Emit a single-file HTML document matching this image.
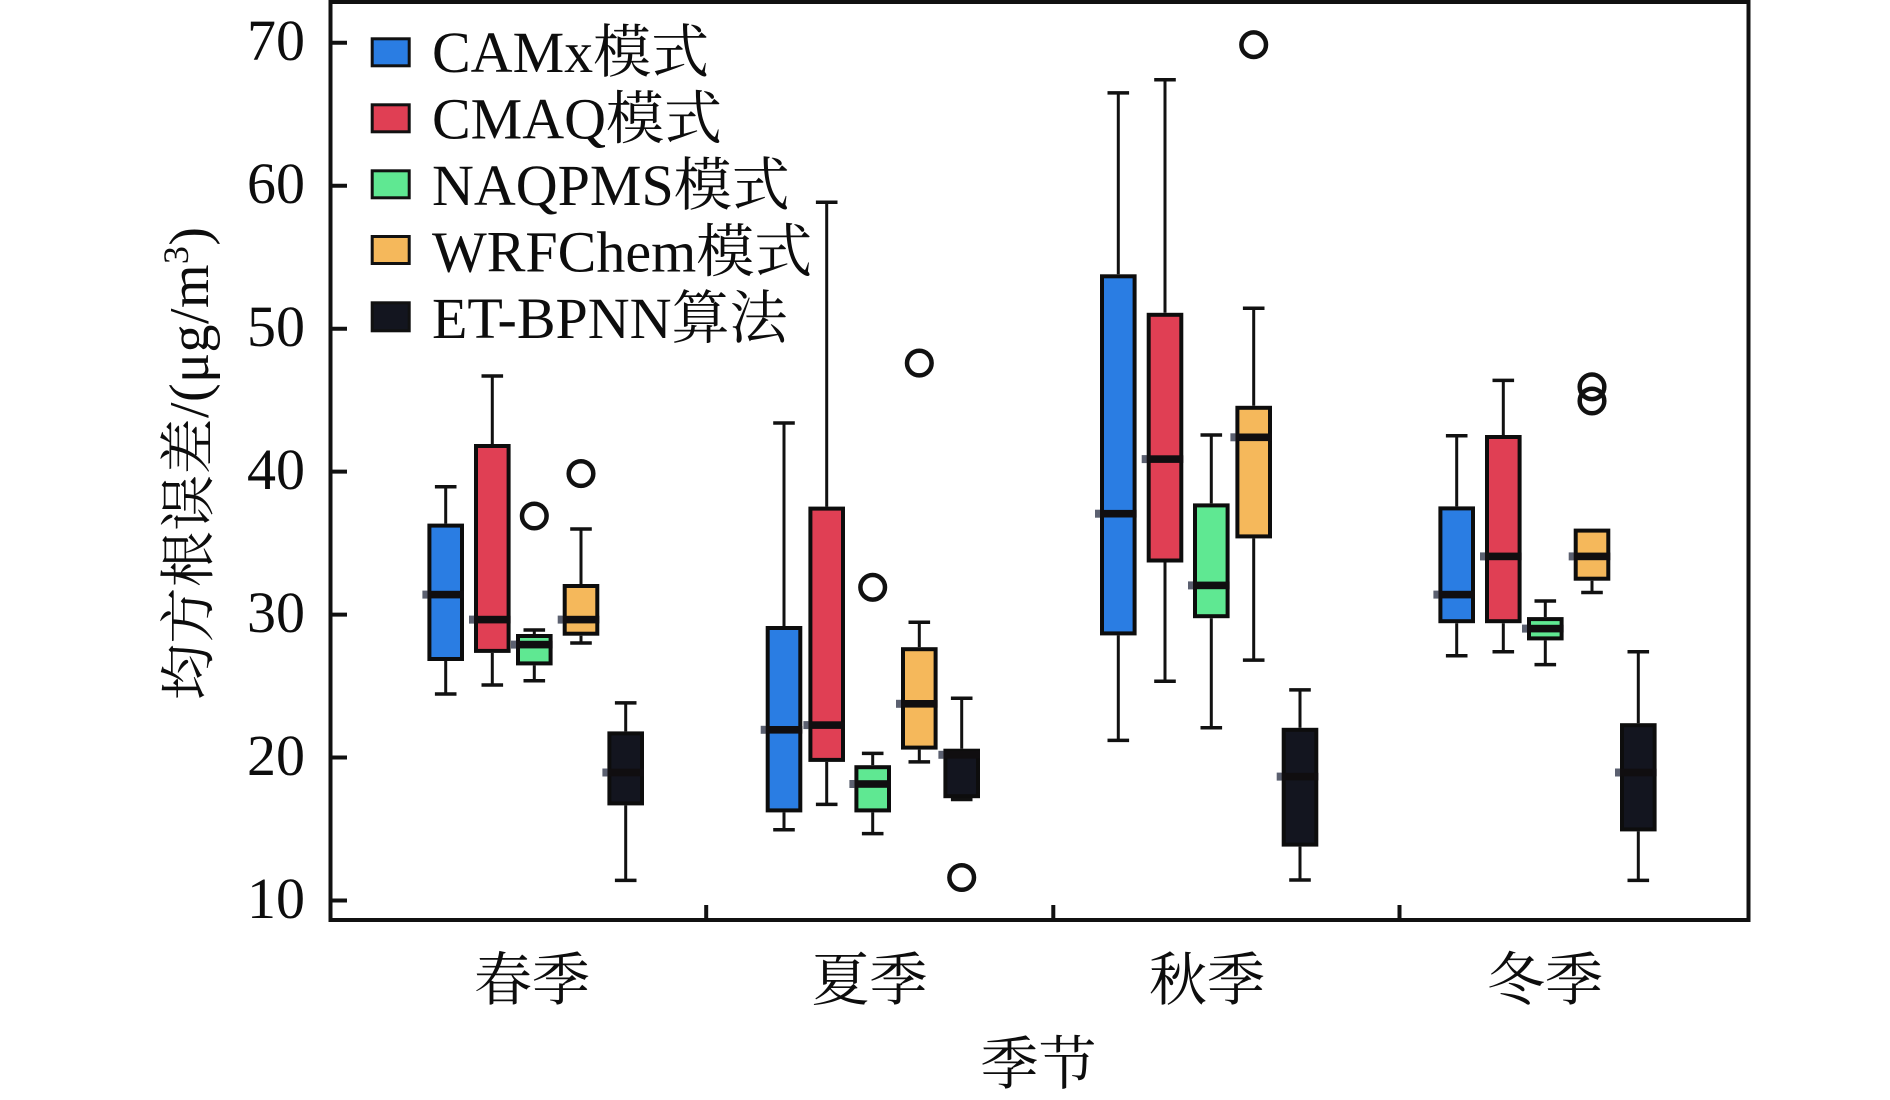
<!DOCTYPE html>
<html><head><meta charset="utf-8"><style>
html,body{margin:0;padding:0;background:#fff;}
svg{display:block;}
text{font-family:"Liberation Serif","Noto Serif CJK SC",serif;fill:#0d0d0d;}
</style></head><body>
<svg width="1890" height="1100" viewBox="0 0 1890 1100" xmlns="http://www.w3.org/2000/svg">
<rect width="1890" height="1100" fill="#fff"/>
<g stroke="#111" stroke-width="4">
<line x1="330" y1="42.8" x2="347" y2="42.8"/>
<line x1="330" y1="185.7" x2="347" y2="185.7"/>
<line x1="330" y1="328.7" x2="347" y2="328.7"/>
<line x1="330" y1="471.6" x2="347" y2="471.6"/>
<line x1="330" y1="614.6" x2="347" y2="614.6"/>
<line x1="330" y1="757.5" x2="347" y2="757.5"/>
<line x1="330" y1="900.5" x2="347" y2="900.5"/>
<line x1="706.2" y1="905" x2="706.2" y2="920"/>
<line x1="1053.3" y1="905" x2="1053.3" y2="920"/>
<line x1="1399.5" y1="905" x2="1399.5" y2="920"/>
</g>
<g font-size="58" text-anchor="end">
<text x="305" y="60">70</text>
<text x="305" y="203">60</text>
<text x="305" y="346">50</text>
<text x="305" y="489">40</text>
<text x="305" y="632">30</text>
<text x="305" y="775">20</text>
<text x="305" y="918">10</text>
</g>
<g font-size="58" text-anchor="middle">
<text x="532" y="1000">春季</text>
<text x="869.5" y="1000">夏季</text>
<text x="1207" y="1000">秋季</text>
<text x="1545" y="1000">冬季</text>
<text x="1038.5" y="1084">季节</text>
</g>
<text transform="translate(208,700) rotate(-90)" font-size="56" textLength="473" lengthAdjust="spacing">均方根误差/(μg/m<tspan font-size="36" dy="-20">3</tspan><tspan dy="20">)</tspan></text>

<!-- legend -->
<g stroke="#111" stroke-width="3">
<rect x="372.2" y="38.8" width="37" height="27" fill="#2a7de3"/>
<rect x="372.2" y="104.8" width="37" height="27" fill="#e03f54"/>
<rect x="372.2" y="170.8" width="37" height="27" fill="#5fe892"/>
<rect x="372.2" y="236.5" width="37" height="27" fill="#f5b85b"/>
<rect x="372.2" y="302.8" width="37" height="28" fill="#13151f"/>
</g>
<g font-size="58">
<text x="432" y="72">CAMx模式</text>
<text x="432" y="138.5">CMAQ模式</text>
<text x="432" y="205">NAQPMS模式</text>
<text x="432" y="271.5">WRFChem模式</text>
<text x="432" y="338">ET-BPNN算法</text>
</g>

<!-- whiskers -->
<g stroke="#111" stroke-width="3">
<line x1="445.7" y1="486.8" x2="445.7" y2="523.6"/><line x1="445.7" y1="661" x2="445.7" y2="694"/>
<line x1="492.3" y1="376" x2="492.3" y2="444"/><line x1="492.3" y1="652.9" x2="492.3" y2="685"/>
<line x1="534.3" y1="630" x2="534.3" y2="634"/><line x1="534.3" y1="665.4" x2="534.3" y2="680.7"/>
<line x1="581" y1="529" x2="581" y2="584"/><line x1="581" y1="635.7" x2="581" y2="643"/>
<line x1="625.7" y1="702.9" x2="625.7" y2="731.4"/><line x1="625.7" y1="805.4" x2="625.7" y2="880.4"/>

<line x1="784" y1="423" x2="784" y2="626"/><line x1="784" y1="812.4" x2="784" y2="829.8"/>
<line x1="826.7" y1="202.2" x2="826.7" y2="506.6"/><line x1="826.7" y1="761.9" x2="826.7" y2="804.4"/>
<line x1="872.7" y1="753.4" x2="872.7" y2="765.2"/><line x1="872.7" y1="812.4" x2="872.7" y2="833.6"/>
<line x1="919.3" y1="622.2" x2="919.3" y2="647.2"/><line x1="919.3" y1="749.6" x2="919.3" y2="761.9"/>
<line x1="961.7" y1="698.2" x2="961.7" y2="748.7"/>

<line x1="1118.3" y1="92.9" x2="1118.3" y2="274.3"/><line x1="1118.3" y1="635.4" x2="1118.3" y2="740.4"/>
<line x1="1165" y1="79.7" x2="1165" y2="312.8"/><line x1="1165" y1="562.5" x2="1165" y2="681.3"/>
<line x1="1211.3" y1="435" x2="1211.3" y2="503.4"/><line x1="1211.3" y1="618.2" x2="1211.3" y2="727.8"/>
<line x1="1253.7" y1="308.2" x2="1253.7" y2="405.8"/><line x1="1253.7" y1="538.4" x2="1253.7" y2="660.1"/>
<line x1="1300" y1="689.9" x2="1300" y2="727.8"/><line x1="1300" y1="846.6" x2="1300" y2="880"/>

<line x1="1456.7" y1="435.7" x2="1456.7" y2="506.4"/><line x1="1456.7" y1="623.2" x2="1456.7" y2="655.7"/>
<line x1="1503.3" y1="380.4" x2="1503.3" y2="435"/><line x1="1503.3" y1="623.2" x2="1503.3" y2="651.8"/>
<line x1="1545.3" y1="601" x2="1545.3" y2="617.1"/><line x1="1545.3" y1="640.4" x2="1545.3" y2="664.6"/>
<line x1="1592" y1="580.7" x2="1592" y2="592.5"/>
<line x1="1638.3" y1="651.8" x2="1638.3" y2="723.2"/><line x1="1638.3" y1="831.4" x2="1638.3" y2="880.4"/>
</g>
<!-- caps -->
<g stroke="#111" stroke-width="3.5">
<line x1="434.9" y1="486.8" x2="456.5" y2="486.8"/><line x1="434.9" y1="694" x2="456.5" y2="694"/>
<line x1="481.5" y1="376" x2="503.1" y2="376"/><line x1="481.5" y1="685" x2="503.1" y2="685"/>
<line x1="523.5" y1="630" x2="545.1" y2="630"/><line x1="523.5" y1="680.7" x2="545.1" y2="680.7"/>
<line x1="570.2" y1="529" x2="591.8" y2="529"/><line x1="570.2" y1="643" x2="591.8" y2="643"/>
<line x1="614.9" y1="702.9" x2="636.5" y2="702.9"/><line x1="614.9" y1="880.4" x2="636.5" y2="880.4"/>

<line x1="773.2" y1="423" x2="794.8" y2="423"/><line x1="773.2" y1="829.8" x2="794.8" y2="829.8"/>
<line x1="815.9" y1="202.2" x2="837.5" y2="202.2"/><line x1="815.9" y1="804.4" x2="837.5" y2="804.4"/>
<line x1="861.9" y1="753.4" x2="883.5" y2="753.4"/><line x1="861.9" y1="833.6" x2="883.5" y2="833.6"/>
<line x1="908.5" y1="622.2" x2="930.1" y2="622.2"/><line x1="908.5" y1="761.9" x2="930.1" y2="761.9"/>
<line x1="950.9" y1="698.2" x2="972.5" y2="698.2"/><line x1="950.9" y1="799.5" x2="972.5" y2="799.5"/>

<line x1="1107.5" y1="92.9" x2="1129.1" y2="92.9"/><line x1="1107.5" y1="740.4" x2="1129.1" y2="740.4"/>
<line x1="1154.2" y1="79.7" x2="1175.8" y2="79.7"/><line x1="1154.2" y1="681.3" x2="1175.8" y2="681.3"/>
<line x1="1200.5" y1="435" x2="1222.1" y2="435"/><line x1="1200.5" y1="727.8" x2="1222.1" y2="727.8"/>
<line x1="1242.9" y1="308.2" x2="1264.5" y2="308.2"/><line x1="1242.9" y1="660.1" x2="1264.5" y2="660.1"/>
<line x1="1289.2" y1="689.9" x2="1310.8" y2="689.9"/><line x1="1289.2" y1="880" x2="1310.8" y2="880"/>

<line x1="1445.9" y1="435.7" x2="1467.5" y2="435.7"/><line x1="1445.9" y1="655.7" x2="1467.5" y2="655.7"/>
<line x1="1492.5" y1="380.4" x2="1514.1" y2="380.4"/><line x1="1492.5" y1="651.8" x2="1514.1" y2="651.8"/>
<line x1="1534.5" y1="601" x2="1556.1" y2="601"/><line x1="1534.5" y1="664.6" x2="1556.1" y2="664.6"/>
<line x1="1581.2" y1="592.5" x2="1602.8" y2="592.5"/>
<line x1="1627.5" y1="651.8" x2="1649.1" y2="651.8"/><line x1="1627.5" y1="880.4" x2="1649.1" y2="880.4"/>
</g>
<!-- boxes -->
<g stroke="#0d0d0d" stroke-width="4">
<rect x="429.4" y="525.6" width="32.6" height="133.4" fill="#2a7de3"/>
<rect x="476" y="446" width="32.6" height="204.9" fill="#e03f54"/>
<rect x="518" y="636" width="32.6" height="27.4" fill="#5fe892"/>
<rect x="564.7" y="586" width="32.6" height="47.7" fill="#f5b85b"/>
<rect x="609.4" y="733.4" width="32.6" height="70" fill="#13151f"/>

<rect x="767.7" y="628" width="32.6" height="182.4" fill="#2a7de3"/>
<rect x="810.4" y="508.6" width="32.6" height="251.3" fill="#e03f54"/>
<rect x="856.4" y="767.2" width="32.6" height="43.2" fill="#5fe892"/>
<rect x="903" y="649.2" width="32.6" height="98.4" fill="#f5b85b"/>
<rect x="945.4" y="750.7" width="32.6" height="45.5" fill="#13151f"/>

<rect x="1102" y="276.3" width="32.6" height="357.1" fill="#2a7de3"/>
<rect x="1148.7" y="314.8" width="32.6" height="245.7" fill="#e03f54"/>
<rect x="1195" y="505.4" width="32.6" height="110.8" fill="#5fe892"/>
<rect x="1237.4" y="407.8" width="32.6" height="128.6" fill="#f5b85b"/>
<rect x="1283.7" y="729.8" width="32.6" height="114.8" fill="#13151f"/>

<rect x="1440.4" y="508.4" width="32.6" height="112.8" fill="#2a7de3"/>
<rect x="1487" y="437" width="32.6" height="184.2" fill="#e03f54"/>
<rect x="1529" y="619.1" width="32.6" height="19.3" fill="#5fe892"/>
<rect x="1575.7" y="530.6" width="32.6" height="48.1" fill="#f5b85b"/>
<rect x="1622" y="725.2" width="32.6" height="104.2" fill="#13151f"/>
</g>
<!-- median grey stubs -->
<g fill="#5b6070">
<rect x="422.4" y="590.6" width="5" height="8"/>
<rect x="469" y="615.6" width="5" height="8"/>
<rect x="511" y="640.6" width="5" height="8"/>
<rect x="557.7" y="615.6" width="5" height="8"/>
<rect x="602.4" y="768.5" width="5" height="8"/>
<rect x="760.7" y="725.8" width="5" height="8"/>
<rect x="803.4" y="721.1" width="5" height="8"/>
<rect x="849.4" y="780" width="5" height="8"/>
<rect x="896" y="699.8" width="5" height="8"/>
<rect x="938.4" y="750.8" width="5" height="8"/>
<rect x="1095" y="509.7" width="5" height="8"/>
<rect x="1141.7" y="455.1" width="5" height="8"/>
<rect x="1188" y="581.4" width="5" height="8"/>
<rect x="1230.4" y="433.3" width="5" height="8"/>
<rect x="1276.7" y="772.6" width="5" height="8"/>
<rect x="1433.4" y="590.6" width="5" height="8"/>
<rect x="1480" y="552.4" width="5" height="8"/>
<rect x="1522" y="624.6" width="5" height="8"/>
<rect x="1568.7" y="552.4" width="5" height="8"/>
<rect x="1615" y="768.5" width="5" height="8"/>
</g>
<!-- medians -->
<g fill="#100e10">
<rect x="427.4" y="590.8" width="36.6" height="7.6"/>
<rect x="474" y="615.8" width="36.6" height="7.6"/>
<rect x="516" y="640.8" width="36.6" height="7.6"/>
<rect x="562.7" y="615.8" width="36.6" height="7.6"/>
<rect x="607.4" y="768.7" width="36.6" height="7.6"/>
<rect x="765.7" y="726" width="36.6" height="7.6"/>
<rect x="808.4" y="721.3" width="36.6" height="7.6"/>
<rect x="854.4" y="780.2" width="36.6" height="7.6"/>
<rect x="901" y="700" width="36.6" height="7.6"/>
<rect x="943.4" y="751" width="36.6" height="7.6"/>
<rect x="1100" y="509.9" width="36.6" height="7.6"/>
<rect x="1146.7" y="455.3" width="36.6" height="7.6"/>
<rect x="1193" y="581.6" width="36.6" height="7.6"/>
<rect x="1235.4" y="433.5" width="36.6" height="7.6"/>
<rect x="1281.7" y="772.8" width="36.6" height="7.6"/>
<rect x="1438.4" y="590.8" width="36.6" height="7.6"/>
<rect x="1485" y="552.6" width="36.6" height="7.6"/>
<rect x="1527" y="624.8" width="36.6" height="7.6"/>
<rect x="1573.7" y="552.6" width="36.6" height="7.6"/>
<rect x="1620" y="768.7" width="36.6" height="7.6"/>
</g>
<!-- outliers -->
<g fill="none" stroke="#111" stroke-width="4.5">
<circle cx="534.3" cy="516" r="12.3"/>
<circle cx="581" cy="473.6" r="12.3"/>
<circle cx="872.7" cy="587.3" r="12.3"/>
<circle cx="919.3" cy="363.1" r="12.3"/>
<circle cx="961.7" cy="877.5" r="12.3"/>
<circle cx="1253.7" cy="44.7" r="12.3"/>
<circle cx="1592" cy="386.8" r="12.3"/>
<circle cx="1592" cy="401" r="12.3"/>
</g>
<rect x="330.5" y="2" width="1418" height="918" fill="none" stroke="#111" stroke-width="4"/>
</svg>
</body></html>
